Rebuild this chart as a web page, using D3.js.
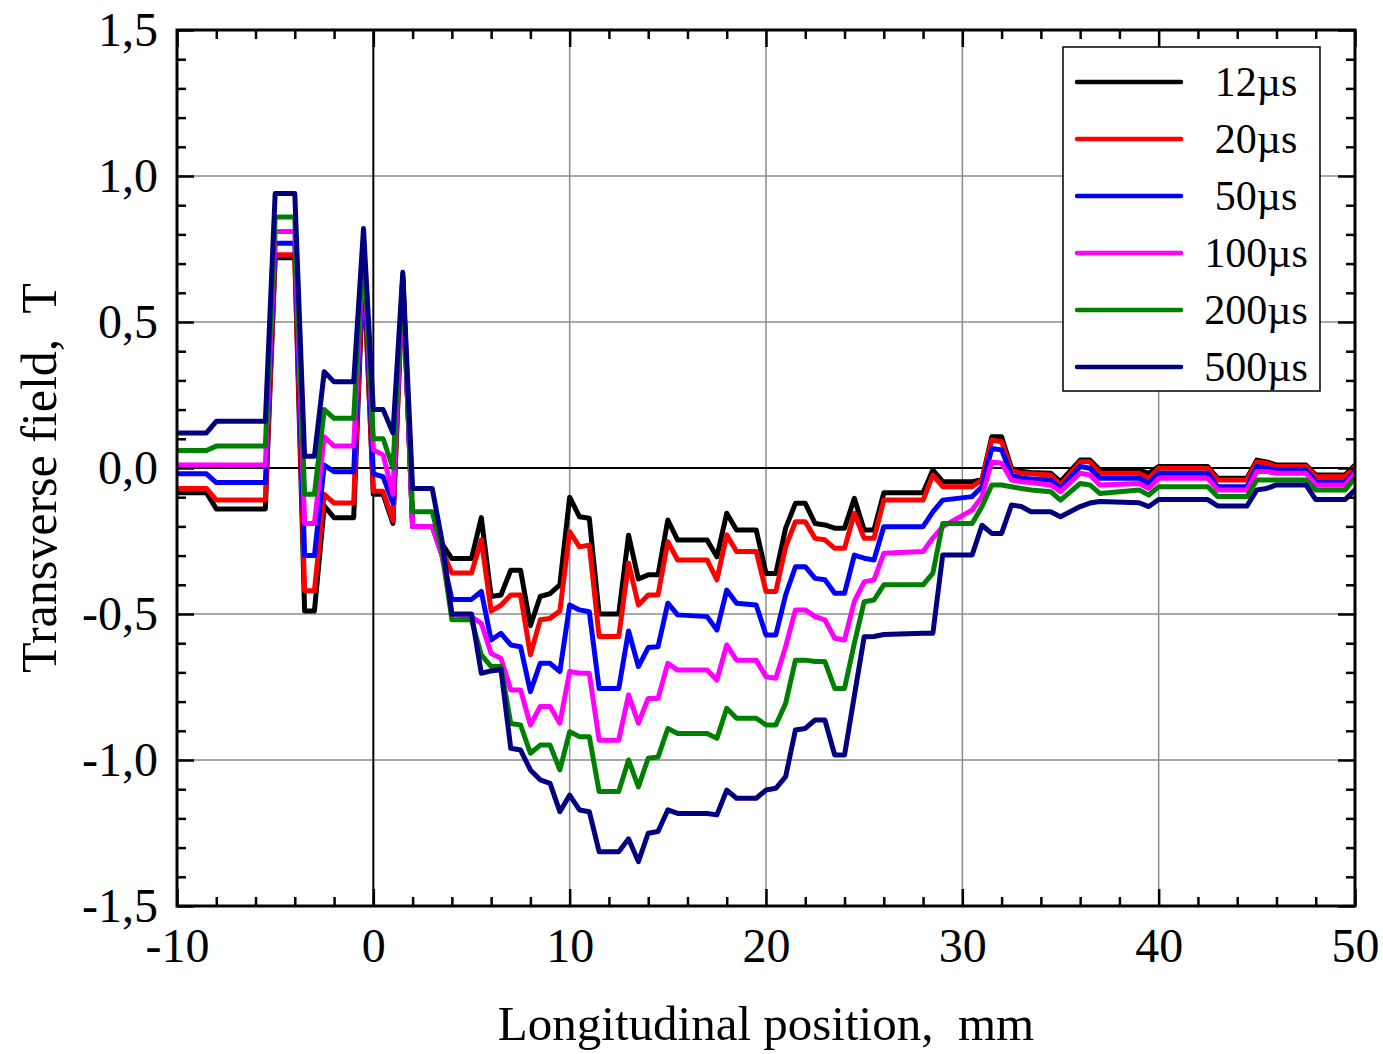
<!DOCTYPE html>
<html>
<head>
<meta charset="utf-8">
<script src="https://d3js.org/d3.v7.min.js"></script>
<style>
  body { margin: 0; background: #fff; }
  svg text { font-family: "Liberation Serif", "Times New Roman", serif; fill: #000; }
</style>
</head>
<body>
<div id="chart"></div>
<script>
// longitudinal positions (mm) shared by every curve
const positions = [
  -10, -8.5, -8, -5.5, -5, -4, -3.5, -3, -2.5, -2,
  -1, -0.5, 0, 0.5, 1, 1.5, 2, 3, 3.5, 4,
  5, 5.5, 6, 6.5, 7, 7.5, 8, 8.5, 9, 9.5,
  10, 10.5, 11, 11.5, 12.5, 13, 13.5, 14, 14.5, 15,
  15.5, 17, 17.5, 18, 18.5, 19.5, 20, 20.5, 21, 21.5,
  22, 22.5, 23, 23.5, 24, 24.5, 25, 25.5, 26, 28,
  28.5, 29, 30.5, 31, 31.5, 32, 32.5, 33, 33.5, 34.5,
  35, 36, 36.5, 37, 39, 39.5, 40, 42.5, 43, 44.5,
  45, 45.5, 46, 47.5, 48, 49.5, 50
];

// transverse field (T) for each delay
const field12us = [
  -0.085, -0.085, -0.14, -0.14, 0.72, 0.72, -0.49, -0.49, -0.13, -0.17,
  -0.17, 0.70, -0.09, -0.09, -0.19, 0.64, -0.20, -0.20, -0.26, -0.31,
  -0.31, -0.17, -0.44, -0.435, -0.35, -0.35, -0.54, -0.44, -0.43, -0.40,
  -0.10, -0.167, -0.172, -0.50, -0.50, -0.23, -0.38, -0.366, -0.366, -0.178,
  -0.247, -0.247, -0.304, -0.155, -0.212, -0.212, -0.361, -0.361, -0.206, -0.121,
  -0.121, -0.19, -0.195, -0.206, -0.206, -0.104, -0.212, -0.212, -0.085, -0.085,
  -0.007, -0.047, -0.047, -0.04, 0.107, 0.107, -0.001, -0.012, -0.015, -0.018,
  -0.047, 0.027, 0.027, -0.007, -0.007, -0.018, 0.005, 0.005, -0.035, -0.035,
  0.027, 0.021, 0.01, 0.01, -0.024, -0.024, 0.01
];
const field20us = [
  -0.07, -0.07, -0.11, -0.11, 0.73, 0.73, -0.42, -0.42, -0.09, -0.12,
  -0.12, 0.72, -0.08, -0.08, -0.18, 0.64, -0.20, -0.20, -0.28, -0.36,
  -0.36, -0.246, -0.49, -0.47, -0.435, -0.435, -0.64, -0.52, -0.515, -0.49,
  -0.218, -0.27, -0.264, -0.577, -0.577, -0.326, -0.469, -0.435, -0.435, -0.252,
  -0.315, -0.315, -0.383, -0.229, -0.286, -0.286, -0.423, -0.423, -0.27, -0.184,
  -0.184, -0.241, -0.246, -0.275, -0.275, -0.155, -0.241, -0.241, -0.11, -0.11,
  -0.024, -0.064, -0.064, -0.041, 0.096, 0.09, -0.007, -0.018, -0.02, -0.024,
  -0.058, 0.021, 0.021, -0.018, -0.018, -0.035, -0.001, -0.001, -0.041, -0.041,
  0.021, 0.016, 0.005, 0.005, -0.03, -0.03, 0.005
];
const field50us = [
  -0.02, -0.02, -0.05, -0.05, 0.77, 0.77, -0.30, -0.30, 0.01, -0.013,
  -0.013, 0.74, -0.02, -0.03, -0.12, 0.65, -0.20, -0.20, -0.30, -0.45,
  -0.45, -0.423, -0.589, -0.566, -0.606, -0.612, -0.766, -0.669, -0.669, -0.697,
  -0.469, -0.486, -0.492, -0.755, -0.755, -0.558, -0.68, -0.615, -0.612, -0.463,
  -0.503, -0.509, -0.555, -0.418, -0.463, -0.469, -0.572, -0.572, -0.435, -0.338,
  -0.338, -0.378, -0.383, -0.429, -0.429, -0.298, -0.309, -0.315, -0.201, -0.201,
  -0.15, -0.11, -0.098, -0.064, 0.067, 0.062, -0.024, -0.035, -0.038, -0.041,
  -0.07, 0.005, -0.001, -0.035, -0.035, -0.053, -0.018, -0.018, -0.064, -0.064,
  0.005, -0.001, -0.007, -0.007, -0.047, -0.047, -0.012
];
const field100us = [
  0.01, 0.01, 0.01, 0.01, 0.81, 0.81, -0.19, -0.19, 0.107, 0.075,
  0.075, 0.76, 0.062, 0.045, -0.09, 0.65, -0.20, -0.20, -0.30, -0.50,
  -0.51, -0.532, -0.635, -0.652, -0.76, -0.76, -0.88, -0.817, -0.817, -0.874,
  -0.697, -0.703, -0.703, -0.932, -0.932, -0.777, -0.874, -0.789, -0.789, -0.669,
  -0.692, -0.692, -0.726, -0.606, -0.658, -0.658, -0.715, -0.72, -0.612, -0.486,
  -0.486, -0.509, -0.52, -0.583, -0.589, -0.457, -0.39, -0.383, -0.292, -0.286,
  -0.24, -0.201, -0.144, -0.098, 0.021, 0.016, -0.041, -0.047, -0.05, -0.058,
  -0.081, -0.018, -0.024, -0.058, -0.053, -0.07, -0.035, -0.035, -0.075, -0.075,
  -0.012, -0.012, -0.018, -0.018, -0.058, -0.058, -0.018
];
const field200us = [
  0.06, 0.06, 0.075, 0.075, 0.86, 0.86, -0.09, -0.09, 0.20, 0.17,
  0.17, 0.78, 0.10, 0.10, 0.0, 0.66, -0.15, -0.15, -0.28, -0.52,
  -0.52, -0.64, -0.68, -0.68, -0.875, -0.88, -0.977, -0.949, -0.949, -1.034,
  -0.903, -0.92, -0.92, -1.108, -1.108, -1.0, -1.092, -0.994, -0.99, -0.892,
  -0.909, -0.909, -0.926, -0.823, -0.857, -0.857, -0.88, -0.88, -0.806, -0.658,
  -0.658, -0.663, -0.663, -0.755, -0.755, -0.60, -0.458, -0.452, -0.40, -0.40,
  -0.36, -0.19, -0.19, -0.132, -0.058, -0.058, -0.064, -0.07, -0.075, -0.081,
  -0.11, -0.053, -0.058, -0.087, -0.075, -0.093, -0.064, -0.064, -0.098, -0.098,
  -0.041, -0.041, -0.041, -0.041, -0.075, -0.075, -0.035
];
const field500us = [
  0.12, 0.12, 0.16, 0.16, 0.94, 0.94, 0.04, 0.04, 0.33, 0.295,
  0.295, 0.82, 0.20, 0.20, 0.12, 0.67, -0.07, -0.07, -0.25, -0.50,
  -0.50, -0.703, -0.695, -0.69, -0.96, -0.966, -1.034, -1.068, -1.08, -1.177,
  -1.12, -1.171, -1.177, -1.314, -1.314, -1.27, -1.348, -1.251, -1.245, -1.171,
  -1.183, -1.183, -1.188, -1.103, -1.131, -1.131, -1.103, -1.097, -1.057, -0.897,
  -0.892, -0.863, -0.863, -0.983, -0.983, -0.78, -0.578, -0.577, -0.57, -0.566,
  -0.566, -0.298, -0.298, -0.196, -0.224, -0.224, -0.127, -0.132, -0.15, -0.15,
  -0.167, -0.132, -0.12, -0.115, -0.119, -0.132, -0.108, -0.108, -0.13, -0.13,
  -0.075, -0.07, -0.058, -0.058, -0.108, -0.108, -0.075
];

const seriesNames = ["12µs", "20µs", "50µs", "100µs", "200µs", "500µs"];
const seriesValues = [field12us, field20us, field50us, field100us, field200us, field500us];
const seriesColors = ["#000000", "#ff0000", "#0000ff", "#ff00ff", "#008000", "#000080"];

const xTickValues = [-10, 0, 10, 20, 30, 40, 50];
const xTickLabels = ["-10", "0", "10", "20", "30", "40", "50"];
const yTickValues = [-1.5, -1.0, -0.5, 0, 0.5, 1.0, 1.5];
const yTickLabels = ["-1,5", "-1,0", "-0,5", "0,0", "0,5", "1,0", "1,5"];

// layout
var margin = { top: 30, right: 28, bottom: 148, left: 177 },
  width = 1383 - margin.left - margin.right,
  height = 1054 - margin.top - margin.bottom;

var svg = d3
  .select("#chart")
  .append("svg")
  .attr("width", 1383)
  .attr("height", 1054)
  .append("g")
  .attr("transform", "translate(" + margin.left + "," + margin.top + ")");

var xScale = d3.scaleLinear().domain([-10, 50]).range([0, width]);
var yScale = d3.scaleLinear().domain([-1.5, 1.5]).range([height, 0]);

// minor ticks every 2 mm and every 0.1 T
var xMinor = d3.range(-10, 50.01, 2).filter((v) => v % 10 !== 0);
var yMinor = d3.range(-15, 15.1, 1).filter((v) => v % 5 !== 0).map((v) => v / 10);

// grid lines
svg
  .append("g")
  .selectAll("line.vgrid")
  .data(xTickValues.filter((v) => v !== 0 && v !== -10 && v !== 50))
  .enter()
  .append("line")
  .attr("x1", (d) => xScale(d))
  .attr("x2", (d) => xScale(d))
  .attr("y1", 0)
  .attr("y2", height)
  .attr("stroke", "#8c8c8c")
  .attr("stroke-width", 1.5);

svg
  .append("g")
  .selectAll("line.hgrid")
  .data(yTickValues.filter((v) => v !== 0 && Math.abs(v) !== 1.5))
  .enter()
  .append("line")
  .attr("x1", 0)
  .attr("x2", width)
  .attr("y1", (d) => yScale(d))
  .attr("y2", (d) => yScale(d))
  .attr("stroke", "#8c8c8c")
  .attr("stroke-width", 1.5);

// zero lines
svg
  .append("line")
  .attr("x1", xScale(0))
  .attr("x2", xScale(0))
  .attr("y1", 0)
  .attr("y2", height)
  .attr("stroke", "#000")
  .attr("stroke-width", 2);
svg
  .append("line")
  .attr("x1", 0)
  .attr("x2", width)
  .attr("y1", yScale(0))
  .attr("y2", yScale(0))
  .attr("stroke", "#000")
  .attr("stroke-width", 2);

// curves
svg
  .append("clipPath")
  .attr("id", "plot-clip")
  .append("rect")
  .attr("width", width)
  .attr("height", height);

var line = d3
  .line()
  .x((d) => xScale(d[0]))
  .y((d) => yScale(d[1]));

var curves = svg.append("g").attr("clip-path", "url(#plot-clip)");
seriesValues.forEach((values, i) => {
  curves
    .append("path")
    .datum(positions.map((p, j) => [p, values[j]]))
    .attr("fill", "none")
    .attr("stroke", seriesColors[i])
    .attr("stroke-width", 5)
    .attr("stroke-linejoin", "round")
    .attr("d", line);
});

// axes, ticks pointing inward
function styleAxis(g) {
  g.select(".domain").remove();
  g.selectAll(".tick line").attr("stroke", "#000").attr("stroke-width", 2.5);
  g.selectAll("text").attr("font-size", 48).attr("fill", "#000");
}

svg
  .append("g")
  .attr("transform", "translate(0," + height + ")")
  .call(
    d3.axisBottom(xScale)
      .tickValues(xTickValues)
      .tickSize(-17)
      .tickPadding(22)
      .tickFormat((d, i) => xTickLabels[i])
  )
  .call(styleAxis)
  .style("font-family", "'Liberation Serif', serif");

svg
  .append("g")
  .attr("transform", "translate(0," + height + ")")
  .call(d3.axisBottom(xScale).tickValues(xMinor).tickSize(-9).tickFormat(""))
  .call(styleAxis);

svg
  .append("g")
  .call(d3.axisTop(xScale).tickValues(xTickValues).tickSize(-17).tickFormat(""))
  .call(styleAxis);
svg
  .append("g")
  .call(d3.axisTop(xScale).tickValues(xMinor).tickSize(-9).tickFormat(""))
  .call(styleAxis);

svg
  .append("g")
  .call(
    d3.axisLeft(yScale)
      .tickValues(yTickValues)
      .tickSize(-17)
      .tickPadding(19)
      .tickFormat((d, i) => yTickLabels[i])
  )
  .call(styleAxis)
  .style("font-family", "'Liberation Serif', serif");
svg
  .append("g")
  .call(d3.axisLeft(yScale).tickValues(yMinor).tickSize(-9).tickFormat(""))
  .call(styleAxis);

svg
  .append("g")
  .attr("transform", "translate(" + width + ",0)")
  .call(d3.axisRight(yScale).tickValues(yTickValues).tickSize(-17).tickFormat(""))
  .call(styleAxis);
svg
  .append("g")
  .attr("transform", "translate(" + width + ",0)")
  .call(d3.axisRight(yScale).tickValues(yMinor).tickSize(-9).tickFormat(""))
  .call(styleAxis);

// frame
svg
  .append("rect")
  .attr("width", width)
  .attr("height", height)
  .attr("fill", "none")
  .attr("stroke", "#000")
  .attr("stroke-width", 3);

// axis titles
svg
  .append("text")
  .attr("x", width / 2)
  .attr("y", height + 134)
  .attr("text-anchor", "middle")
  .attr("font-size", 49)
  .text("Longitudinal position,\u00a0\u00a0mm");

svg
  .append("text")
  .attr("transform", "translate(" + (56 - margin.left) + "," + (478 - margin.top) + ") rotate(-90)")
  .attr("text-anchor", "middle")
  .attr("font-size", 50)
  .text("Transverse field,\u00a0\u00a0T");

// legend
var legend = svg
  .append("g")
  .attr("transform", "translate(" + (1063 - margin.left) + "," + (47 - margin.top) + ")");

legend
  .append("rect")
  .attr("width", 257)
  .attr("height", 344)
  .attr("fill", "#fff")
  .attr("stroke", "#000")
  .attr("stroke-width", 1.5);

seriesNames.forEach((name, i) => {
  var rowY = 35 + i * 57;
  legend
    .append("line")
    .attr("x1", 14)
    .attr("x2", 118)
    .attr("y1", rowY)
    .attr("y2", rowY)
    .attr("stroke", seriesColors[i])
    .attr("stroke-width", 4.5)
    .attr("stroke-linecap", "round");
  legend
    .append("text")
    .attr("x", 193)
    .attr("y", rowY + 14)
    .attr("text-anchor", "middle")
    .attr("font-size", 42)
    .text(name);
});
</script>
</body>
</html>
